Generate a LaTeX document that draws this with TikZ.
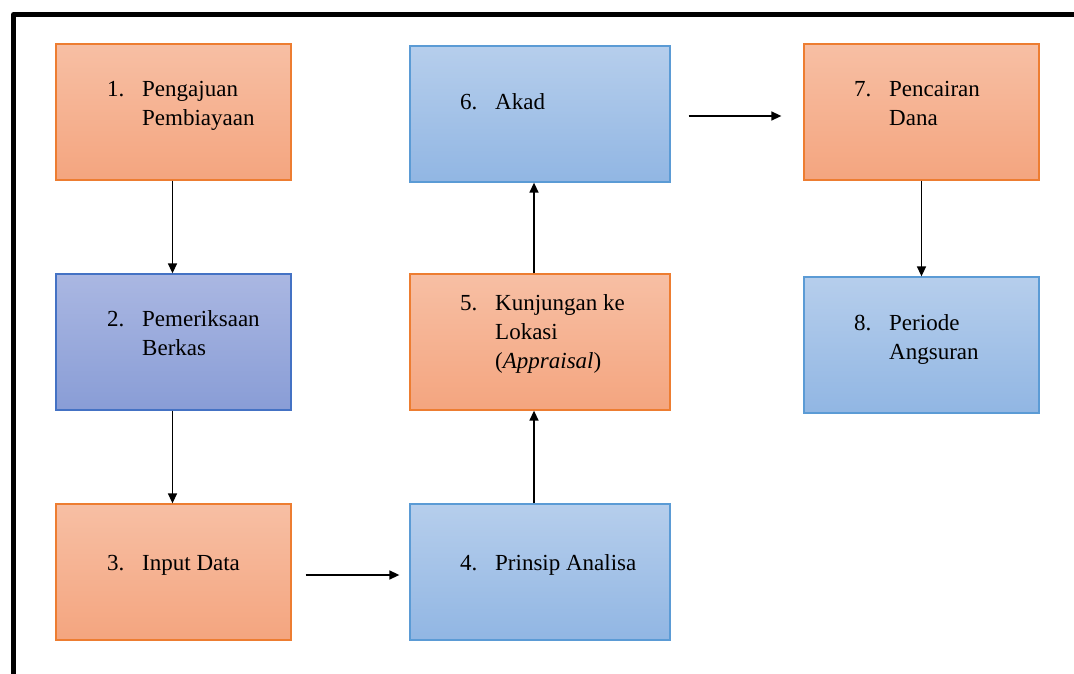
\documentclass[tikz,border=0pt]{standalone}
\usepackage{fontspec}
\setmainfont{Liberation Serif}
\usetikzlibrary{arrows.meta}
\definecolor{otop}{RGB}{247,191,164}
\definecolor{obot}{RGB}{244,165,127}
\definecolor{oedge}{RGB}{237,125,49}
\definecolor{btop}{RGB}{182,206,236}
\definecolor{bbot}{RGB}{145,182,227}
\definecolor{bedge}{RGB}{91,155,213}
\definecolor{ptop}{RGB}{170,183,226}
\definecolor{pbot}{RGB}{137,157,214}
\definecolor{pedge}{RGB}{68,114,196}
\newcommand{\lines}[1]{\begin{tabular}[t]{@{}l@{}}#1\end{tabular}}
\tikzset{
  box/.style={rectangle, line width=1.3pt, minimum width=235pt, minimum height=136pt, inner sep=0pt},
  wbox/.style={box, minimum width=260pt},
  obox/.style={draw=oedge, top color=otop, bottom color=obot},
  bbox/.style={draw=bedge, top color=btop, bottom color=bbot},
  pbox/.style={draw=pedge, top color=ptop, bottom color=pbot},
  lbl/.style={anchor=base west, inner sep=0pt, font=\fontsize{23}{29}\selectfont, text=black},
  arr/.style={line width=1.5pt, -{Triangle[length=10pt,width=9pt]}}
}
\begin{document}
\begin{tikzpicture}[x=1pt,y=-1pt]
\useasboundingbox (0,0) rectangle (1074,674);
\draw[line width=5pt, line join=round] (1080,14.5) -- (13.5,14.5) -- (13.5,680);
% boxes
\node[box,obox] (b1) at (173.5,112) {};
\node[box,pbox] (b2) at (173.5,342) {};
\node[box,obox] (b3) at (173.5,572) {};
\node[wbox,bbox] (b4) at (540,572) {};
\node[wbox,obox] (b5) at (540,342) {};
\node[wbox,bbox] (b6) at (540,114) {};
\node[box,obox] (b7) at (921.5,112) {};
\node[box,bbox] (b8) at (921.5,345) {};
% labels
\node[lbl] (n1) at (107,97) {1.};
\node[lbl] (t1) at (142,97) {\lines{Pengajuan\\Pembiayaan}};
\node[lbl] (n2) at (107,326) {2.};
\node[lbl] (t2) at (142,326) {\lines{Pemeriksaan\\Berkas}};
\node[lbl] (n3) at (107,570) {3.};
\node[lbl] (t3) at (142,570) {Input Data};
\node[lbl] (n4) at (460,570) {4.};
\node[lbl] (t4) at (495,570) {Prinsip Analisa};
\node[lbl] (n5) at (460,310) {5.};
\node[lbl] (t5) at (495,310) {\lines{Kunjungan ke\\Lokasi\\(\textit{Appraisal})}};
\node[lbl] (n6) at (460,110) {6.};
\node[lbl] (t6) at (495,110) {Akad};
\node[lbl] (n7) at (854,97) {7.};
\node[lbl] (t7) at (889,97) {\lines{Pencairan\\Dana}};
\node[lbl] (n8) at (854,330) {8.};
\node[lbl] (t8) at (889,330) {\lines{Periode\\Angsuran}};
% arrows
\draw[arr] ([xshift=-1pt]b1.south) -- ([xshift=-1pt]b2.north);
\draw[arr] ([xshift=-1pt]b2.south) -- ([xshift=-1pt]b3.north);
\draw[arr] ([shift={(14,3)}]b3.east) -- ([shift={(-10,3)}]b4.west);
\draw[arr] ([xshift=-6pt]b4.north) -- ([xshift=-6pt]b5.south);
\draw[arr] ([xshift=-6pt]b5.north) -- ([xshift=-6pt]b6.south);
\draw[arr] ([shift={(18,2)}]b6.east) -- ([shift={(-22,4)}]b7.west);
\draw[arr] (b7.south) -- (b8.north);
\end{tikzpicture}
\end{document}
